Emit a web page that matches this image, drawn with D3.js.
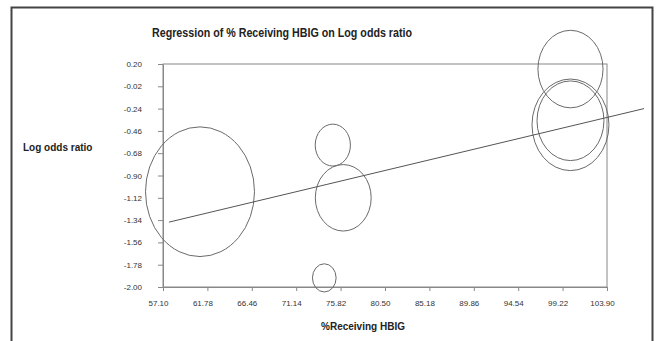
<!DOCTYPE html>
<meta charset="utf-8">
<style>
body { margin: 0; background: #fff; font-family: Arial, "Liberation Sans", sans-serif; }
.tick text { fill: #333; font-size: 8px; }
.domain, .tick line { stroke: #888; }
</style>
<body>
<script src="https://d3js.org/d3.v7.min.js"></script>
<script>

// bubbles: % receiving HBIG, log odds ratio, bubble weight
var pctHBIG = [61.0, 75.0, 76.1, 74.1, 100.05, 100.05, 100.05];
var logOR = [-1.06, -0.60, -1.12, -1.91, 0.15, -0.40, -0.36];
var weight = [29.7, 3.1, 7.8, 1.4, 10.6, 14.8, 11.2];

// regression line end points
var regX = [57.73, 107.8];
var regY = [-1.36, -0.24];

var xTicks = [57.10, 61.78, 66.46, 71.14, 75.82, 80.50, 85.18, 89.86, 94.54, 99.22, 103.90];
var yTicks = [0.20, -0.02, -0.24, -0.46, -0.68, -0.90, -1.12, -1.34, -1.56, -1.78, -2.00];

var m_width = 657, m_height = 341;
var m_left = 163, m_right = 607, m_top = 64, m_bottom = 287;

// plain hyphen for negatives, like the original
var fmt = function(d) { return d.toFixed(2); };

var svg = d3.select("body").append("svg")
    .attr("width", m_width)
    .attr("height", m_height);

// outer frame
svg.append("rect")
    .attr("x", 11.5).attr("y", 7.5)
    .attr("width", 641).attr("height", 400)
    .attr("fill", "none")
    .attr("stroke", "#444")
    .attr("stroke-width", 2);

var x = d3.scaleLinear().domain([57.10, 103.90]).range([m_left, m_right]);
var y = d3.scaleLinear().domain([-2.00, 0.20]).range([m_bottom, m_top]);
var r = d3.scaleSqrt().domain([0, d3.max(weight)]).range([0, 54.5]);

// plot box
svg.append("rect")
    .attr("x", m_left).attr("y", m_top)
    .attr("width", m_right - m_left).attr("height", m_bottom - m_top)
    .attr("fill", "none")
    .attr("stroke", "#888");

svg.append("g")
    .attr("transform", "translate(0," + m_bottom + ")")
    .call(d3.axisBottom(x).tickValues(xTicks).tickFormat(fmt).tickSize(4).tickSizeOuter(0))
  .selectAll("text")
    .attr("dx", -5)
    .attr("dy", "1.5em");

svg.append("g")
    .attr("transform", "translate(" + m_left + ",0)")
    .call(d3.axisLeft(y).tickValues(yTicks).tickFormat(fmt).tickSize(5).tickSizeOuter(0))
  .selectAll("text")
    .attr("x", -21);

svg.selectAll("ellipse.bubble")
    .data(pctHBIG)
  .enter().append("ellipse")
    .attr("class", "bubble")
    .attr("cx", function(d) { return x(d); })
    .attr("cy", function(d, i) { return y(logOR[i]); })
    .attr("rx", function(d, i) { return r(weight[i]); })
    .attr("ry", function(d, i) { return r(weight[i]) * 1.19; })
    .attr("fill", "none")
    .attr("stroke", "#6a6a6a")
    .attr("stroke-width", 1);

svg.append("line")
    .attr("x1", x(regX[0])).attr("y1", y(regY[0]))
    .attr("x2", x(regX[1])).attr("y2", y(regY[1]))
    .attr("stroke", "#555")
    .attr("stroke-width", 1);

svg.append("text")
    .attr("x", 282).attr("y", 37)
    .attr("text-anchor", "middle")
    .attr("font-size", 12.5)
    .attr("font-weight", "bold")
    .attr("fill", "#222")
    .attr("textLength", 260)
    .attr("lengthAdjust", "spacingAndGlyphs")
    .text("Regression of % Receiving HBIG on Log odds ratio");

svg.append("text")
    .attr("x", 23).attr("y", 151)
    .attr("font-size", 10)
    .attr("font-weight", "bold")
    .attr("fill", "#222")
    .text("Log odds ratio");

svg.append("text")
    .attr("x", 363).attr("y", 330)
    .attr("text-anchor", "middle")
    .attr("font-size", 10)
    .attr("font-weight", "bold")
    .attr("fill", "#222")
    .text("%Receiving HBIG");

</script>
